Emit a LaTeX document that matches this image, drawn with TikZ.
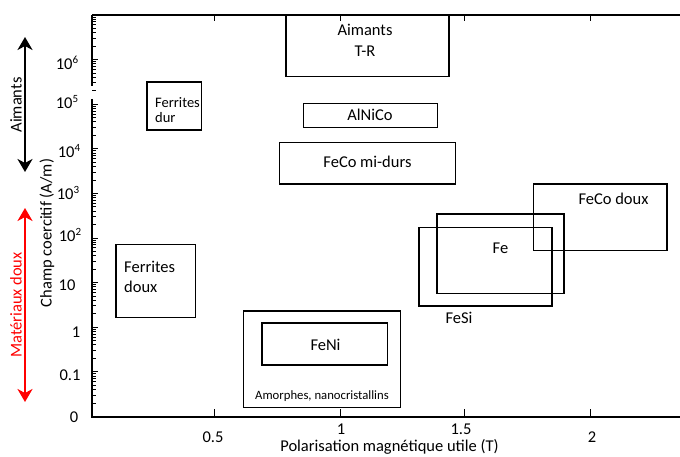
\documentclass[tikz,border=0pt]{standalone}
\usepackage{fontspec}
\setmainfont{Carlito}
\usetikzlibrary{arrows.meta}
\begin{document}
\begin{tikzpicture}[x=1pt,y=-1pt,
  box/.style={draw=black,line width=1.8pt},
  axisline/.style={draw=black,line width=1.8pt},
  topline/.style={draw=black,line width=1.2pt},
  tickline/.style={draw=black,line width=0.9pt},
  lbl/.style={font=\fontsize{16.5}{19}\selectfont,inner sep=0pt,anchor=base},
  lblsmall/.style={font=\fontsize{14.5}{16}\selectfont,inner sep=0pt,anchor=base west,align=left},
  lbltiny/.style={font=\fontsize{12.7}{15}\selectfont,inner sep=0pt,anchor=base},
  dbl/.style={line width=2.6pt,{Stealth[length=13pt,width=15pt,inset=4pt]}-{Stealth[length=13pt,width=15pt,inset=4pt]}}]
\useasboundingbox (0,0) rectangle (680,457);

% axes
\draw[topline] (92,15) -- (680,15);
\draw[axisline] (92,15) -- (92,86);
\draw[axisline] (92,99) -- (92,417) -- (680,417);

% y ticks (log)
\foreach \k in {0,...,8}{
  \pgfmathsetmacro{\yy}{15+\k*44.6}
  \draw[tickline] (92,\yy) -- (98,\yy);
  \foreach \m in {2,...,9}{
    \pgfmathsetmacro{\ym}{\yy+44.6*(1-log10(\m))}
    \draw[tickline] (92,\ym) -- (95.5,\ym);
  }
}
% x ticks
\foreach \xx in {214,340,464,590}{
  \draw[tickline] (\xx,417) -- (\xx,409);
  \draw[tickline] (\xx,15) -- (\xx,21);
}

% y tick labels
\node[lbl] (y6) at (67,70) {10\raisebox{0.42em}{\fontsize{11}{11}\selectfont 6}};
\node[lbl] (y5) at (67,109) {10\raisebox{0.42em}{\fontsize{11}{11}\selectfont 5}};
\node[lbl] (y4) at (69,158) {10\raisebox{0.42em}{\fontsize{11}{11}\selectfont 4}};
\node[lbl] (y3) at (68,200) {10\raisebox{0.42em}{\fontsize{11}{11}\selectfont 3}};
\node[lbl] (y2) at (70,242) {10\raisebox{0.42em}{\fontsize{11}{11}\selectfont 2}};
\node[lbl] (y1) at (67,290) {10};
\node[lbl] (y0) at (76,337) {1};
\node[lbl] (ym1) at (70,380) {0.1};
\node[lbl] (yz) at (74,422) {0};

% x tick labels
\node[lbl] (x05) at (213,442) {0.5};
\node[lbl] (x10) at (341,434.5) {1};
\node[lbl] (x15) at (461,434.5) {1.5};
\node[lbl] (x20) at (592,442) {2};

% axis titles
\node[lbl,anchor=base] (xt) at (389.5,451) {Polarisation magnétique utile (T)};
\node[font=\fontsize{16.5}{19}\selectfont,inner sep=0pt,rotate=90] (yt) at (47,233) {Champ coercitif (A/m)};

% left arrows
\coordinate (aTop) at (25,37);
\coordinate (aBot) at (25,172);
\draw[dbl,black] (aTop) -- (aBot);
\node[font=\fontsize{16.5}{19}\selectfont,inner sep=0pt,rotate=90] (aim) at (16,105) {Aimants};
\coordinate (mTop) at (25,208);
\coordinate (mBot) at (25,402);
\draw[dbl,red] (mTop) -- (mBot);
\node[font=\fontsize{16.5}{19}\selectfont,inner sep=0pt,rotate=90,text=red] (mat) at (16,305) {Matériaux doux};

% boxes
\draw[box] (286,15) rectangle (449,76.5);
\node[lbl] (t1) at (365,36) {Aimants};
\node[lbl] (t2) at (365,57) {T-R};

\draw[box] (303.5,103.5) rectangle (437.5,127.5);
\node[lbl] (alnico) at (370,121) {AlNiCo};

\draw[box] (279.5,142.5) rectangle (455.5,184);
\node[lbl] (fecomi) at (367.5,168) {FeCo mi-durs};

\draw[box] (147,82) rectangle (201.5,130);
\node[lblsmall] (fdur) at (155,107.5) {Ferrites};
\node[lblsmall] (fdur2) at (155,122.7) {dur};

\draw[box] (116,244.5) rectangle (195.5,317.5);
\node[lbl,anchor=base west] (fdoux) at (124,272.7) {Ferrites};
\node[lbl,anchor=base west] (fdoux2) at (124,292.7) {doux};

\draw[box] (243.5,311) rectangle (400.5,407.5);
\node[lbltiny] (amor) at (322,399) {Amorphes, nanocristallins};
\draw[box] (262,323) rectangle (387.5,365);
\node[lbl] (feni) at (325.5,350) {FeNi};

\draw[box] (533.5,184) rectangle (667,250.5);
\node[lbl] (fecod) at (613.5,205) {FeCo doux};

\draw[box] (437,214) rectangle (564,293.5);
\node[lbl] (fe) at (500.5,253) {Fe};

\draw[box] (419,227.5) rectangle (552,306);
\node[lbl] (fesi) at (459,323) {FeSi};
\end{tikzpicture}
\end{document}
